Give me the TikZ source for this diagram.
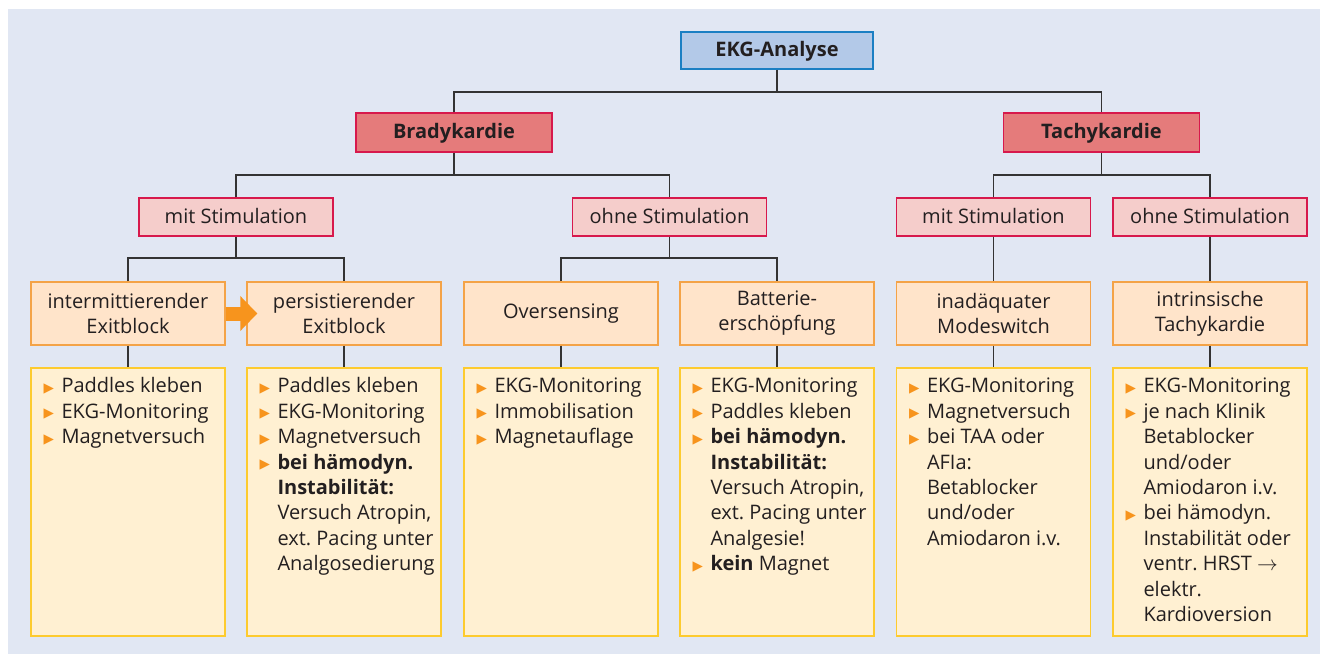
\documentclass[tikz,border=0pt]{standalone}
\usepackage{fontspec}
\setmainfont{Open Sans}
\newfontfamily\symf{DejaVu Sans}
\usetikzlibrary{arrows.meta,calc}
\frenchspacing
\definecolor{bgc}{HTML}{E1E7F3}
\definecolor{ekgfill}{HTML}{B3C9E8}
\definecolor{ekgdraw}{HTML}{1B7FC3}
\definecolor{redfill}{HTML}{E57B7B}
\definecolor{reddraw}{HTML}{D7194C}
\definecolor{pinkfill}{HTML}{F5CDCB}
\definecolor{peachfill}{HTML}{FFE4CA}
\definecolor{peachdraw}{HTML}{F4A347}
\definecolor{yelfill}{HTML}{FFF0D2}
\definecolor{yeldraw}{HTML}{FDCB2E}
\definecolor{arrowc}{HTML}{F7941D}
\definecolor{linec}{HTML}{333333}
\definecolor{txt}{HTML}{231F20}
\newcommand{\bt}{\makebox[18pt][l]{\raisebox{0.5pt}{\color{arrowc}\symf\fontsize{13.5}{13.5}\selectfont ▶}}}
\newcommand{\nl}{\hfil\break}
\newcommand{\itm}[1]{\par\hangindent=18pt\hangafter=1\noindent\bt #1}
\newcommand{\blist}[1]{\vtop{\hsize=200pt\parindent=0pt\parskip=0pt\fontsize{20}{25.4}\selectfont\frenchspacing#1\par}}
\begin{document}
\begin{tikzpicture}[x=1pt,y=-1pt,
  base/.style={rectangle, line width=1.4pt, inner sep=0pt, text=txt, font=\fontsize{20}{25}\selectfont, align=center},
  one/.style={text height=16pt, text depth=4pt},
  top/.style={base, one, fill=ekgfill, draw=ekgdraw, minimum width=192pt, minimum height=37pt, font=\fontsize{20}{25}\selectfont\bfseries},
  lvone/.style={base, one, fill=redfill, draw=reddraw, minimum width=196pt, minimum height=39pt, font=\fontsize{20}{25}\selectfont\bfseries},
  lvtwo/.style={base, one, fill=pinkfill, draw=reddraw, minimum width=194pt, minimum height=38pt},
  lvthree/.style={base, fill=peachfill, draw=peachdraw, minimum width=194pt, minimum height=63pt},
  lvfour/.style={base, fill=yelfill, draw=yeldraw, minimum width=194pt, minimum height=268pt},
  listtext/.style={anchor=base west, inner sep=0pt, text=txt},
  conn/.style={draw=linec, line width=1.5pt}
]
\useasboundingbox (0,0) rectangle (1320,654);
\fill[white] (0,0) rectangle (1320,654);
\fill[bgc] (8,9) rectangle (1320,654);

\node[top] (ekg) at (777,50.5) {EKG-Analyse};
\node[lvone] (brady) at (454,132.5) {Bradykardie};
\node[lvone] (tachy) at (1101.5,132.5) {Tachykardie};

\node[lvtwo] (bm) at (236,217) {mit Stimulation};
\node[lvtwo] (bo) at (669.5,217) {ohne Stimulation};
\node[lvtwo] (tm) at (993.5,217) {mit Stimulation};
\node[lvtwo] (to) at (1210,217) {ohne Stimulation};

\node[lvthree] (a1) at (128,313.5) {intermittierender\\Exitblock};
\node[lvthree] (a2) at (344,313.5) {persistierender\\Exitblock};
\node[lvthree] (a3) at (561,313.5) {Oversensing};
\node[lvthree] (a4) at (777,313.5) {Batterie-\\erschöpfung};
\node[lvthree] (a5) at (993.5,313.5) {inadäquater\\Modeswitch};
\node[lvthree] (a6) at (1210,313.5) {intrinsische\\Tachykardie};

\node[lvfour] (b1) at (128,502) {};
\node[lvfour] (b2) at (344,502) {};
\node[lvfour] (b3) at (561,502) {};
\node[lvfour] (b4) at (777,502) {};
\node[lvfour] (b5) at (993.5,502) {};
\node[lvfour] (b6) at (1210,502) {};

\node[listtext] (t1) at ($(b1.north west)+(13,25.5)$) {\blist{%
  \itm{Paddles kleben}\itm{EKG-Monitoring}\itm{Magnetversuch}}};
\node[listtext] (t2) at ($(b2.north west)+(13,25.5)$) {\blist{%
  \itm{Paddles kleben}\itm{EKG-Monitoring}\itm{Magnetversuch}%
  \itm{\textbf{bei hämodyn.}\nl\textbf{Instabilität:}\nl Versuch Atropin,\nl ext. Pacing unter\nl Analgosedierung}}};
\node[listtext] (t3) at ($(b3.north west)+(13,25.5)$) {\blist{%
  \itm{EKG-Monitoring}\itm{Immobilisation}\itm{Magnetauflage}}};
\node[listtext] (t4) at ($(b4.north west)+(13,25.5)$) {\blist{%
  \itm{EKG-Monitoring}\itm{Paddles kleben}%
  \itm{\textbf{bei hämodyn.}\nl\textbf{Instabilität:}\nl Versuch Atropin,\nl ext. Pacing unter\nl Analgesie!}%
  \itm{\textbf{kein} Magnet}}};
\node[listtext] (t5) at ($(b5.north west)+(13,25.5)$) {\blist{%
  \itm{EKG-Monitoring}\itm{Magnetversuch}%
  \itm{bei TAA oder\nl AFIa:\nl Betablocker\nl und/oder\nl Amiodaron i.v.}}};
\node[listtext] (t6) at ($(b6.north west)+(13,25.5)$) {\blist{%
  \itm{EKG-Monitoring}%
  \itm{je nach Klinik\nl Betablocker\nl und/oder\nl Amiodaron i.v.}%
  \itm{bei hämodyn.\nl Instabilität oder\nl ventr. HRST $\rightarrow$\nl elektr.\nl Kardioversion}}};

% connectors
\coordinate (j0) at (777,92);
\draw[conn] (ekg.south) -- (j0);
\draw[conn] (brady.north) |- (j0) -| (tachy.north);
\coordinate (jb) at (454,175);
\draw[conn] (brady.south) -- (jb);
\draw[conn] (bm.north) |- (jb) -| (bo.north);
\coordinate (jt) at (1101.5,175);
\draw[conn] (tachy.south) -- (jt);
\draw[conn] (tm.north) |- (jt) -| (to.north);
\coordinate (k1) at (236,258);
\draw[conn] (bm.south) -- (k1);
\draw[conn] (a1.north) |- (k1) -| (a2.north);
\coordinate (k2) at (669.5,258);
\draw[conn] (bo.south) -- (k2);
\draw[conn] (a3.north) |- (k2) -| (a4.north);
\draw[conn] (tm.south) -- (a5.north);
\draw[conn] (to.south) -- (a6.north);
\foreach \i in {1,...,6} {\draw[conn] (a\i.south) -- (b\i.north);}

\draw[draw=arrowc, line width=14pt, -{Triangle[length=17pt,width=34pt]}] (a1.east) -- ([xshift=11pt]a2.west);
\end{tikzpicture}
\end{document}
